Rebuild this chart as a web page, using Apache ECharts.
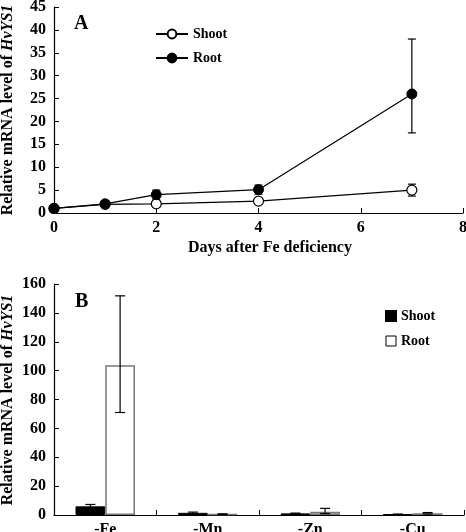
<!DOCTYPE html>
<html>
<head>
<meta charset="utf-8">
<script src="https://cdn.jsdelivr.net/npm/echarts@6/dist/echarts.min.js"></script>
<style>
html,body{margin:0;padding:0;background:#fff;}
#c{width:466px;height:532px;}
</style>
</head>
<body>
<div id="c"></div>
<script>
// ---- Panel A data ----
var daysA = [0, 1, 2, 4, 7];
var shootA = [1.0, 1.9, 2.0, 2.6, 5.0];
var shootAErrUp = [0.2, 0.3, 0.6, 0.5, 1.3];
var shootAErrDown = [0.2, 0.3, 0.6, 0.5, 1.3];
var rootA = [1.0, 2.0, 4.0, 5.1, 26.0];
var rootAErrUp = [0.2, 0.4, 1.0, 1.0, 12.0];
var rootAErrDown = [0.2, 0.4, 1.0, 1.0, 8.5];
var xTicksA = [0, 2, 4, 6, 8];

// ---- Panel B data ----
var catsB = ['-Fe', '-Mn', '-Zn', '-Cu'];
var shootB = [6.0, 1.5, 1.1, 0.5];
var shootBErrUp = [1.3, 0.5, 0.2, 0.1];
var shootBErrDown = [1.3, 0.5, 0.2, 0.1];
var rootB = [103.8, 0.6, 2.3, 1.2];
var rootBErrUp = [48.0, 0.2, 2.3, 0.5];
var rootBErrDown = [32.8, 0.2, 1.3, 0.5];

var FONT = '"Liberation Serif", "Times New Roman", serif';
var AXC = '#000';

function errDataA(xs, vals, up, down) {
  return xs.map(function (x, i) { return [x, vals[i] - down[i], vals[i] + up[i]]; });
}
function errDataB(vals, up, down, side) {
  return vals.map(function (v, i) { return [i, v - down[i], v + up[i], side]; });
}
function renderErrA(params, api) {
  var x = api.value(0);
  var lo = api.coord([x, api.value(1)]);
  var hi = api.coord([x, api.value(2)]);
  var cap = 4;
  var st = { stroke: '#000', lineWidth: 1.2 };
  return { type: 'group', children: [
    { type: 'line', shape: { x1: hi[0], y1: hi[1], x2: lo[0], y2: lo[1] }, style: st },
    { type: 'line', shape: { x1: hi[0] - cap, y1: hi[1], x2: hi[0] + cap, y2: hi[1] }, style: st },
    { type: 'line', shape: { x1: lo[0] - cap, y1: lo[1], x2: lo[0] + cap, y2: lo[1] }, style: st }
  ] };
}
var BAR_FRAC = 0.29;
function renderErrB(params, api) {
  var i = api.value(0);
  var side = api.value(3);
  var band = api.size([1, 0])[0];
  var off = band * BAR_FRAC * (side ? 0.5 : -0.5);
  var lo = api.coord([i, api.value(1)]);
  var hi = api.coord([i, api.value(2)]);
  var x = lo[0] + off;
  var cap = 5;
  var st = { stroke: '#000', lineWidth: 1.2 };
  return { type: 'group', children: [
    { type: 'line', shape: { x1: x, y1: hi[1], x2: x, y2: lo[1] }, style: st },
    { type: 'line', shape: { x1: x - cap, y1: hi[1], x2: x + cap, y2: hi[1] }, style: st },
    { type: 'line', shape: { x1: x - cap, y1: lo[1], x2: x + cap, y2: lo[1] }, style: st }
  ] };
}

var yNameText = '{b|Relative mRNA level of }{i|HvYS1}';
var yNameRich = {
  b: { fontFamily: FONT, fontWeight: 'bold', fontSize: 16, fill: '#000' },
  i: { fontFamily: FONT, fontWeight: 'bold', fontStyle: 'italic', fontSize: 16, fill: '#000' }
};
function yTitle(cy) {
  return {
    type: 'text', x: 8, y: cy, rotation: Math.PI / 2,
    style: { text: yNameText, rich: yNameRich, align: 'center', verticalAlign: 'middle', fill: '#000' }
  };
}
var axLabel = { fontFamily: FONT, fontWeight: 'bold', fontSize: 16, color: '#000' };

var chart = echarts.init(document.getElementById('c'), null, { renderer: 'canvas' });
chart.setOption({
  animation: false,
  backgroundColor: '#fff',
  grid: [
    { left: 54, right: 3, top: 7, height: 206, outerBoundsMode: 'none', containLabel: false },
    { left: 54, right: 2, top: 284, height: 231, outerBoundsMode: 'none', containLabel: false }
  ],
  xAxis: [
    {
      gridIndex: 0, type: 'value', min: xTicksA[0], max: xTicksA[xTicksA.length - 1], interval: 2,
      axisLine: { show: true, lineStyle: { color: AXC, width: 1.2 } },
      axisTick: { show: true, inside: true, length: 5, lineStyle: { color: AXC } },
      splitLine: { show: false },
      axisLabel: Object.assign({ margin: 7 }, axLabel)
    },
    {
      gridIndex: 1, type: 'category', data: catsB, boundaryGap: true,
      axisLine: { show: true, lineStyle: { color: AXC, width: 1.2 } },
      axisTick: { show: true, inside: true, length: 5, lineStyle: { color: AXC } },
      axisLabel: Object.assign({ margin: 7 }, axLabel)
    }
  ],
  yAxis: [
    {
      gridIndex: 0, type: 'value', min: 0, max: 45, interval: 5,
      axisLine: { show: true, lineStyle: { color: AXC, width: 1.2 } },
      axisTick: { show: true, inside: true, length: 5, lineStyle: { color: AXC } },
      splitLine: { show: false },
      axisLabel: Object.assign({ margin: 8 }, axLabel)
    },
    {
      gridIndex: 1, type: 'value', min: 0, max: 160, interval: 20,
      axisLine: { show: true, lineStyle: { color: AXC, width: 1.2 } },
      axisTick: { show: true, inside: true, length: 5, lineStyle: { color: AXC } },
      splitLine: { show: false },
      axisLabel: Object.assign({ margin: 8 }, axLabel)
    }
  ],
  legend: [
    {
      left: 150, top: 22, orient: 'vertical', itemWidth: 32, itemHeight: 11, itemGap: 10,
      data: ['Shoot', 'Root'],
      textStyle: { fontFamily: FONT, fontWeight: 'bold', fontSize: 14, color: '#000', lineHeight: 14 }
    },
    {
      left: 380, top: 304, orient: 'vertical', itemWidth: 10, itemHeight: 10, itemGap: 11,
      data: [
        { name: 'ShootB', itemStyle: { color: '#000', borderColor: '#000' } },
        { name: 'RootB', itemStyle: { color: '#fff', borderColor: '#000', borderWidth: 1 } }
      ],
      icon: 'rect',
      formatter: function (n) { return n === 'ShootB' ? 'Shoot' : 'Root'; },
      textStyle: { fontFamily: FONT, fontWeight: 'bold', fontSize: 14, color: '#000', lineHeight: 14 }
    }
  ],
  graphic: [
    { type: 'text', left: 74, top: 14, style: { text: 'A', font: 'bold 20px ' + FONT, fill: '#000' } },
    { type: 'text', left: 75, top: 292, style: { text: 'B', font: 'bold 20px ' + FONT, fill: '#000' } },
    { type: 'text', x: 270, y: 248, style: { text: 'Days after Fe deficiency', font: 'bold 16px ' + FONT, fill: '#000', align: 'center', verticalAlign: 'middle' } },
    yTitle(110),
    yTitle(400)
  ],
  series: [
    {
      name: 'Shoot', type: 'line', xAxisIndex: 0, yAxisIndex: 0,
      data: daysA.map(function (d, i) { return [d, shootA[i]]; }),
      symbol: 'circle', symbolSize: 10, z: 5,
      lineStyle: { color: '#000', width: 1.2 },
      itemStyle: { color: '#fff', borderColor: '#000', borderWidth: 1.2 }
    },
    {
      name: 'Root', type: 'line', xAxisIndex: 0, yAxisIndex: 0,
      data: daysA.map(function (d, i) { return [d, rootA[i]]; }),
      symbol: 'circle', symbolSize: 10, z: 5,
      lineStyle: { color: '#000', width: 1.2 },
      itemStyle: { color: '#000', borderColor: '#000', borderWidth: 1 }
    },
    {
      type: 'custom', xAxisIndex: 0, yAxisIndex: 0, z: 3,
      data: errDataA(daysA, shootA, shootAErrUp, shootAErrDown), renderItem: renderErrA
    },
    {
      type: 'custom', xAxisIndex: 0, yAxisIndex: 0, z: 3,
      data: errDataA(daysA, rootA, rootAErrUp, rootAErrDown), renderItem: renderErrA
    },
    {
      name: 'ShootB', type: 'bar', xAxisIndex: 1, yAxisIndex: 1, data: shootB,
      barWidth: (BAR_FRAC * 100) + '%', barGap: '0%',
      itemStyle: { color: '#000', borderColor: '#000', borderWidth: 1 }
    },
    {
      name: 'RootB', type: 'bar', xAxisIndex: 1, yAxisIndex: 1, data: rootB,
      barWidth: (BAR_FRAC * 100) + '%', barGap: '0%',
      itemStyle: { color: '#fff', borderColor: '#777', borderWidth: 1.5 }
    },
    {
      type: 'custom', xAxisIndex: 1, yAxisIndex: 1, z: 4,
      data: errDataB(shootB, shootBErrUp, shootBErrDown, 0), renderItem: renderErrB
    },
    {
      type: 'custom', xAxisIndex: 1, yAxisIndex: 1, z: 4,
      data: errDataB(rootB, rootBErrUp, rootBErrDown, 1), renderItem: renderErrB
    }
  ]
});
</script>
</body>
</html>
